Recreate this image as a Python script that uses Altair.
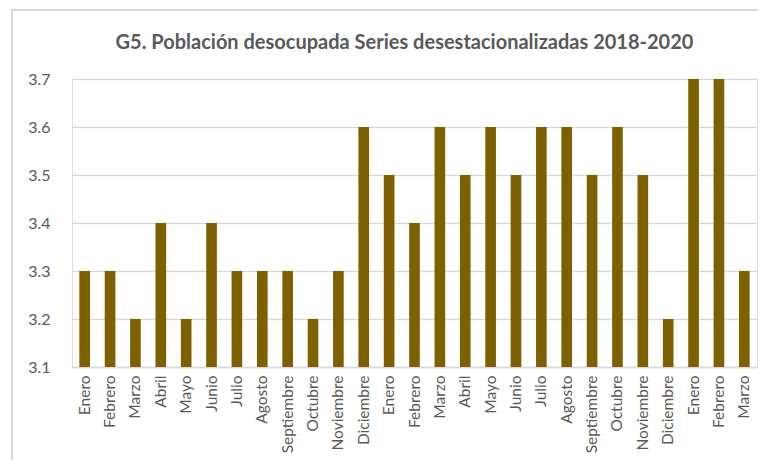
import altair as alt
import pandas as pd

meses = ["Enero", "Febrero", "Marzo", "Abril", "Mayo", "Junio", "Julio", "Agosto",
         "Septiembre", "Octubre", "Noviembre", "Diciembre"]
anios = [2018] * 12 + [2019] * 12 + [2020] * 3
etiquetas = meses + meses + meses[:3]
valores = [3.3, 3.3, 3.2, 3.4, 3.2, 3.4, 3.3, 3.3, 3.3, 3.2, 3.3, 3.6,
           3.5, 3.4, 3.6, 3.5, 3.6, 3.5, 3.6, 3.6, 3.5, 3.6, 3.5, 3.2,
           3.7, 3.7, 3.3]
ticks_y = [3.1, 3.2, 3.3, 3.4, 3.5, 3.6, 3.7]

df = pd.DataFrame({
    "clave": [f"{m} {a}" for m, a in zip(etiquetas, anios)],
    "valor": valores,
})
orden = list(df["clave"])

FONT = "Lato"
GRAY = "#595959"

bars = alt.Chart(df).mark_bar(color="#7F6000", clip=True).encode(
    x=alt.X("clave:N", sort=orden,
            scale=alt.Scale(paddingInner=0.58, paddingOuter=0.29),
            axis=alt.Axis(title=None, labelAngle=-90, labelExpr="split(datum.label, ' ')[0]",
                          labelFont=FONT, labelFontSize=15.5, labelColor=GRAY,
                          labelPadding=8, ticks=False, domainColor="#D9D9D9",
                          domainWidth=1.5, grid=False)),
    y=alt.Y("valor:Q",
            scale=alt.Scale(domain=[3.1, 3.7], zero=False, nice=False),
            axis=alt.Axis(title=None, values=ticks_y, format=".1f",
                          labelFont=FONT, labelFontSize=16, labelColor=GRAY,
                          labelPadding=22, ticks=False, domain=False,
                          gridColor="#D9D9D9", gridWidth=1.5)),
)

border = alt.Chart(df).mark_rect(filled=False, fillOpacity=0, stroke="#D9D9D9",
                                 strokeWidth=2, clip=False).encode(
    x=alt.value(-60), x2=alt.value(900), y=alt.value(-69), y2=alt.value(600)
)

chart = alt.layer(border, bars).properties(
    width=685, height=288,
    title=alt.TitleParams(
        "G5. Población desocupada Series desestacionalizadas  2018-2020",
        font=FONT, fontSize=20, fontWeight="bold", color=GRAY,
        anchor="middle", dx=-10, offset=-44,
    ),
    autosize=alt.AutoSizeParams(type="none"),
    padding={"left": 64, "top": 71, "right": 1, "bottom": 93},
).configure_view(strokeWidth=0).configure(background="white")

chart.save("out.html", embed_options={"renderer": "svg", "actions": False})
